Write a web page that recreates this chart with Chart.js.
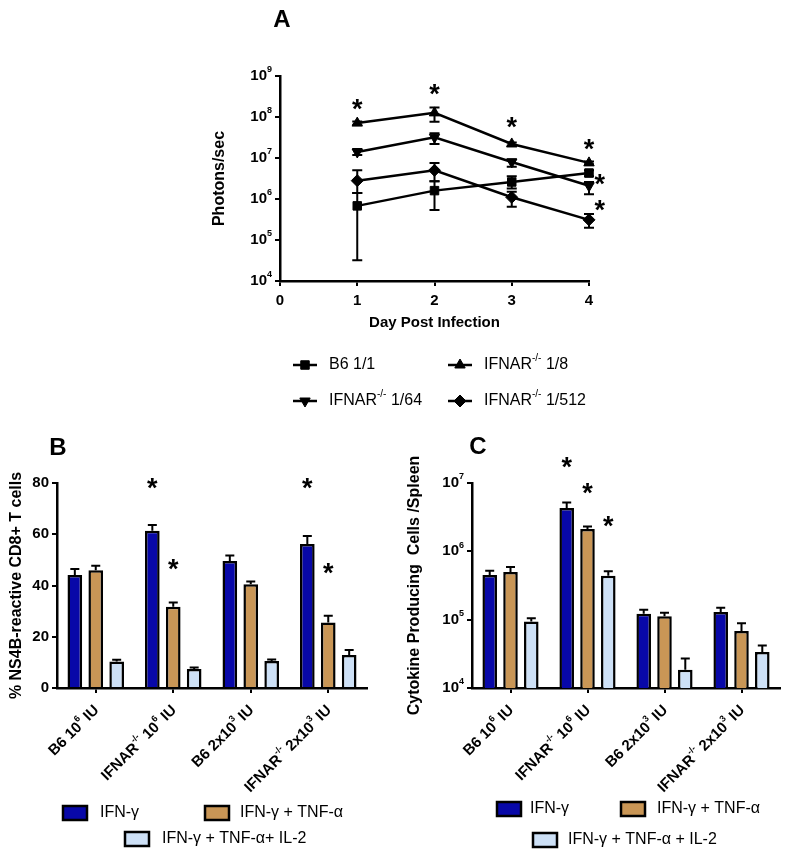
<!DOCTYPE html>
<html>
<head>
<meta charset="utf-8">
<script src="https://cdn.jsdelivr.net/npm/chart.js@4.4.0/dist/chart.umd.min.js"></script>
<style>
  body { margin: 0; background: #fff; }
  #fig { position: relative; width: 791px; height: 860px; }
  canvas { position: absolute; }
</style>
</head>
<body>
<div id="fig">
  <canvas id="chartA" width="791" height="420" style="left:0;top:0"></canvas>
  <canvas id="chartB" width="400" height="440" style="left:0;top:420px"></canvas>
  <canvas id="chartC" width="391" height="440" style="left:400px;top:420px"></canvas>
</div>
<script>
// ---- panel A data (photons/sec by day) ----
const days = [1, 2, 3, 4];
const xTicksA = [0, 1, 2, 3, 4];
const yTicksA = [1e4, 1e5, 1e6, 1e7, 1e8, 1e9];

const b6_1_1 = [6.8e5, 1.6e6, 2.6e6, 4.3e6];
const b6_1_1_hi = [1.4e6, 2.7e6, 3.6e6, 5.0e6];
const b6_1_1_lo = [3.2e4, 5.4e5, 1.8e6, 3.6e6];

const ifnar_1_8 = [7.1e7, 1.26e8, 2.2e7, 7.6e6];
const ifnar_1_8_hi = [7.8e7, 1.7e8, 2.4e7, 8.2e6];
const ifnar_1_8_lo = [6.5e7, 7.7e7, 2.0e7, 7.0e6];

const ifnar_1_64 = [1.4e7, 3.2e7, 8.0e6, 2.1e6];
const ifnar_1_64_hi = [1.66e7, 4.0e7, 9.3e6, 2.6e6];
const ifnar_1_64_lo = [1.18e7, 2.2e7, 6.1e6, 1.3e6];

const ifnar_1_512 = [2.8e6, 5.0e6, 1.1e6, 3.1e5];
const ifnar_1_512_hi = [5.0e6, 7.6e6, 1.5e6, 4.3e5];
const ifnar_1_512_lo = [1.4e6, 2.7e6, 6.5e5, 2.0e5];

// significance stars [day, value]
const starsA = [[1, 2.16e8], [2, 5.0e8], [3, 8.1e7], [4, 2.3e7], [4.14, 3.2e6], [4.14, 7.6e5]];

// ---- panels B and C ----
const groups = ['B6 10^{6} IU', 'IFNAR^{-/-} 10^{6} IU', 'B6 2x10^{3} IU', 'IFNAR^{-/-} 2x10^{3} IU'];

const ifngB = [44.1, 61.4, 49.6, 56.2];
const ifngB_hi = [46.4, 63.6, 51.7, 59.3];
const tnfB = [46.0, 31.7, 40.5, 25.6];
const tnfB_hi = [47.7, 33.4, 41.6, 28.2];
const il2B = [10.3, 7.4, 10.5, 12.9];
const il2B_hi = [11.0, 8.0, 11.1, 14.8];
const yTicksB = [0, 20, 40, 60, 80];
const starsB = [[1, 0, 80.4], [1, 1, 48.8], [3, 0, 80.4], [3, 1, 47.2]]; // [group, series, value]

const ifngC = [4.5e5, 4.3e6, 1.22e5, 1.29e5];
const ifngC_hi = [5.2e5, 5.2e6, 1.4e5, 1.5e5];
const tnfC = [4.97e5, 2.12e6, 1.12e5, 6.8e4];
const tnfC_hi = [5.9e5, 2.3e6, 1.26e5, 8.9e4];
const il2C = [9.4e4, 4.4e5, 1.85e4, 3.36e4];
const il2C_hi = [1.05e5, 5.1e5, 2.7e4, 4.2e4];
const yTicksC = [1e4, 1e5, 1e6, 1e7];
const starsC = [[1, 0, 2.1e7], [1, 1, 8.7e6], [1, 2, 2.9e6]];

const FONT = "'Liberation Sans', Arial, sans-serif";
const BLUE = '#0808a8', TAN = '#c99656', LIGHT = '#cde0f6';
Chart.defaults.font.family = FONT;
Chart.defaults.color = '#000';

const powLabel = v => '10^{' + Math.round(Math.log10(v)) + '}';

// text with ^{...} superscripts
function parseRich(s) {
  const parts = [], re = /\^\{([^}]*)\}/g;
  let last = 0, m;
  while ((m = re.exec(s))) {
    if (m.index > last) parts.push([s.slice(last, m.index), false]);
    parts.push([m[1], true]);
    last = re.lastIndex;
  }
  if (last < s.length) parts.push([s.slice(last), false]);
  return parts;
}
function drawRich(ctx, s, x, y, size, weight, align) {
  const parts = parseRich(s);
  const f = sup => `${weight} ${sup ? Math.round(size * 0.62) : size}px ${FONT}`;
  let w = 0;
  parts.forEach(p => { ctx.font = f(p[1]); w += ctx.measureText(p[0]).width; });
  let cx = align === 'right' ? x - w : x;
  ctx.textAlign = 'left';
  ctx.textBaseline = 'middle';
  parts.forEach(p => {
    ctx.font = f(p[1]);
    ctx.fillText(p[0], cx, p[1] ? y - size * 0.4 : y);
    cx += ctx.measureText(p[0]).width;
  });
}
// log axis labels "10^n", drawn at the scale's own tick positions
function drawPowTicks(ctx, scale, ticks) {
  ctx.fillStyle = '#000';
  ticks.forEach(v => drawRich(ctx, powLabel(v), scale.right - 8, scale.getPixelForValue(v), 15, 'bold', 'right'));
}
function star(ctx, x, y) {
  ctx.font = `bold 27px ${FONT}`;
  ctx.textAlign = 'center';
  ctx.textBaseline = 'alphabetic';
  ctx.fillText('*', x, y + 15);
}
function letter(ctx, t, x, y) {
  ctx.font = `bold 24px ${FONT}`;
  ctx.textAlign = 'center';
  ctx.textBaseline = 'middle';
  ctx.fillText(t, x, y);
}
function marker(ctx, style, rot, x, y) {
  const o = { pointStyle: style, rotation: rot, radius: 6, borderWidth: 1 };
  if (Chart.helpers && Chart.helpers.drawPoint) { Chart.helpers.drawPoint(ctx, o, x, y); return; }
  ctx.fillRect(x - 4, y - 4, 8, 8);
}

const axisGrid = { drawOnChartArea: false, drawTicks: true, tickLength: 5, color: '#000', lineWidth: 2 };
const axisBorder = { display: true, color: '#000', width: 2.5 };
const noPad = s => { s.paddingLeft = 0; s.paddingRight = 0; s.paddingTop = 0; s.paddingBottom = 0; };

// ================= Panel A =================
const mk = (label, vals, hi, lo, style, rot) => ({
  label, data: days.map((d, i) => ({ x: d, y: vals[i] })), hi, lo,
  borderColor: '#000', backgroundColor: '#000', borderWidth: 2.5,
  pointStyle: style, pointRotation: rot, pointRadius: 6, pointBorderWidth: 1,
  showLine: true, clip: false
});

const panelA = {
  id: 'panelA',
  beforeDatasetsDraw(chart) {
    const { ctx } = chart, xs = chart.scales.x, ys = chart.scales.y;
    ctx.save();
    ctx.strokeStyle = '#000';
    ctx.lineWidth = 2;
    chart.data.datasets.forEach(ds => {
      days.forEach((d, i) => {
        const x = xs.getPixelForValue(d);
        const y1 = ys.getPixelForValue(ds.hi[i]), y2 = ys.getPixelForValue(ds.lo[i]);
        ctx.beginPath();
        ctx.moveTo(x, y1); ctx.lineTo(x, y2);
        ctx.moveTo(x - 5, y1); ctx.lineTo(x + 5, y1);
        ctx.moveTo(x - 5, y2); ctx.lineTo(x + 5, y2);
        ctx.stroke();
      });
    });
    ctx.restore();
  },
  afterDraw(chart) {
    const { ctx } = chart, xs = chart.scales.x, ys = chart.scales.y;
    ctx.save();
    drawPowTicks(ctx, ys, yTicksA);
    ctx.fillStyle = '#000';
    starsA.forEach(s => star(ctx, xs.getPixelForValue(s[0]), ys.getPixelForValue(s[1])));
    letter(ctx, 'A', 282, 20);
    // legend: 2 x 2 grid
    const cols = [293, 448], rows = [365, 401];
    chart.data.datasets.forEach((ds, k) => {
      const x = cols[k % 2], y = rows[Math.floor(k / 2)];
      ctx.strokeStyle = '#000';
      ctx.lineWidth = 2.5;
      ctx.beginPath(); ctx.moveTo(x, y); ctx.lineTo(x + 24, y); ctx.stroke();
      ctx.lineWidth = 1;
      marker(ctx, ds.pointStyle, ds.pointRotation, x + 12, y);
      ctx.fillStyle = '#000';
      drawRich(ctx, ds.label, x + 36, y, 16, 'normal', 'left');
    });
    ctx.restore();
  }
};

new Chart(document.getElementById('chartA'), {
  type: 'scatter',
  data: {
    datasets: [
      mk('B6 1/1', b6_1_1, b6_1_1_hi, b6_1_1_lo, 'rect', 0),
      mk('IFNAR^{-/-} 1/8', ifnar_1_8, ifnar_1_8_hi, ifnar_1_8_lo, 'triangle', 0),
      mk('IFNAR^{-/-} 1/64', ifnar_1_64, ifnar_1_64_hi, ifnar_1_64_lo, 'triangle', 180),
      mk('IFNAR^{-/-} 1/512', ifnar_1_512, ifnar_1_512_hi, ifnar_1_512_lo, 'rectRot', 0)
    ]
  },
  options: {
    responsive: false, animation: false,
    layout: { padding: { left: 210, right: 202, top: 76, bottom: 79 } },
    plugins: { legend: { display: false }, tooltip: { enabled: false } },
    scales: {
      x: {
        type: 'linear', min: 0, max: 4,
        afterBuildTicks: s => { s.ticks = xTicksA.map(v => ({ value: v })); },
        afterFit: s => { s.height = 60; noPad(s); },
        ticks: { font: { size: 15, weight: 'bold' }, padding: 6, maxRotation: 0, autoSkip: false },
        grid: axisGrid, border: axisBorder,
        title: { display: true, text: 'Day Post Infection', font: { size: 15, weight: 'bold' }, padding: { top: 0, bottom: 9 } }
      },
      y: {
        type: 'logarithmic', min: 1e4, max: 1e9,
        afterBuildTicks: s => { s.ticks = yTicksA.map(v => ({ value: v })); },
        afterFit: s => { s.width = 70; noPad(s); },
        ticks: { display: false },
        grid: axisGrid, border: axisBorder,
        title: { display: true, text: 'Photons/sec', font: { size: 16, weight: 'bold' }, padding: 0 }
      }
    }
  },
  plugins: [panelA]
});

// ================= Panels B and C =================
function barPanel(id, vals, his, stars, legendText, yOpts, pad, letterPos, legendLayout, ttl) {
  const names = ['IFN-γ', 'IFN-γ + TNF-α', legendText];
  const colors = [BLUE, TAN, LIGHT];
  const extras = {
    id: 'extras' + id,
    afterDatasetsDraw(chart) {
      const { ctx } = chart, ys = chart.scales.y;
      ctx.save();
      ctx.strokeStyle = '#000';
      ctx.lineWidth = 2;
      chart.data.datasets.forEach((ds, di) => {
        const meta = chart.getDatasetMeta(di);
        meta.data.forEach((bar, i) => {
          const y1 = ys.getPixelForValue(ds.hi[i]);
          ctx.beginPath();
          ctx.moveTo(bar.x, bar.y); ctx.lineTo(bar.x, y1);
          ctx.moveTo(bar.x - 4.5, y1); ctx.lineTo(bar.x + 4.5, y1);
          ctx.stroke();
        });
      });
      ctx.fillStyle = '#000';
      stars.forEach(s => {
        const bar = chart.getDatasetMeta(s[1]).data[s[0]];
        star(ctx, bar.x, ys.getPixelForValue(s[2]));
      });
      ctx.restore();
    },
    afterDraw(chart) {
      const { ctx } = chart, xs = chart.scales.x, bottom = chart.chartArea.bottom;
      ctx.save();
      if (yOpts.pow) drawPowTicks(ctx, chart.scales.y, yOpts.pow);
      ctx.fillStyle = '#000';
      groups.forEach((g, i) => {
        ctx.save();
        ctx.translate(xs.getPixelForTick(i) + 1, bottom + 20);
        ctx.rotate(-Math.PI / 4);
        drawRich(ctx, g, 0, 0, 15, 'bold', 'right');
        ctx.restore();
      });
      letter(ctx, id, letterPos[0], letterPos[1]);
      legendLayout.forEach((L, k) => {
        ctx.fillStyle = colors[k];
        ctx.fillRect(L[0], L[1] - 7, 24, 14);
        ctx.strokeStyle = '#000';
        ctx.lineWidth = 2.5;
        ctx.strokeRect(L[0], L[1] - 7, 24, 14);
        ctx.fillStyle = '#000';
        drawRich(ctx, names[k], L[2], L[1], 16, 'normal', 'left');
      });
      ctx.restore();
    }
  };
  return new Chart(document.getElementById('chart' + id), {
    type: 'bar',
    data: {
      labels: groups,
      datasets: vals.map((v, k) => ({
        label: names[k], data: v, hi: his[k],
        backgroundColor: colors[k], borderColor: '#000', borderWidth: 2.5,
        categoryPercentage: 0.81, barPercentage: 0.7
      }))
    },
    options: {
      responsive: false, animation: false,
      layout: { padding: pad },
      plugins: { legend: { display: false }, tooltip: { enabled: false } },
      scales: {
        x: {
          type: 'category', offset: true,
          ticks: { display: false },
          afterFit: s => { s.height = 10; noPad(s); },
          grid: Object.assign({ offset: false }, axisGrid), border: axisBorder
        },
        y: Object.assign({
          afterFit: s => { s.width = yOpts.w; noPad(s); },
          grid: axisGrid, border: axisBorder,
          title: { display: true, text: ttl, font: { size: 16, weight: 'bold' }, padding: 0 }
        }, yOpts.scale)
      }
    },
    plugins: [extras]
  });
}

barPanel('B', [ifngB, tnfB, il2B], [ifngB_hi, tnfB_hi, il2B_hi], starsB, 'IFN-γ + TNF-α+ IL-2',
  { w: 50, scale: {
    type: 'linear', min: 0, max: 80,
    afterBuildTicks: s => { s.ticks = yTicksB.map(v => ({ value: v })); },
    ticks: { font: { size: 15, weight: 'bold' }, padding: 3, autoSkip: false }
  } },
  { left: 7, right: 33, top: 63, bottom: 162 }, [58, 28],
  [[63, 393, 100], [205, 393, 240], [125, 419, 162]],
  '% NS4B-reactive CD8+ T cells');

barPanel('C', [ifngC, tnfC, il2C], [ifngC_hi, tnfC_hi, il2C_hi], starsC, 'IFN-γ + TNF-α + IL-2',
  { w: 67, pow: yTicksC, scale: {
    type: 'logarithmic', min: 1e4, max: 1e7,
    afterBuildTicks: s => { s.ticks = yTicksC.map(v => ({ value: v })); },
    ticks: { display: false }
  } },
  { left: 5, right: 11, top: 63, bottom: 162 }, [78, 27],
  [[97, 389, 130], [221, 389, 257], [133, 420, 168]],
  'Cytokine Producing  Cells /Spleen');
</script>
</body>
</html>
